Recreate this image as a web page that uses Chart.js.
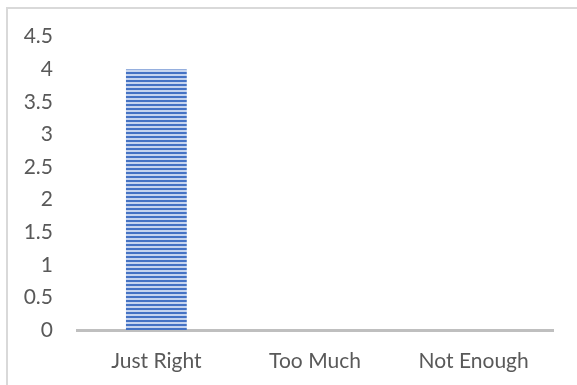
<!DOCTYPE html>
<html>
<head>
<meta charset="utf-8">
<script src="https://cdn.jsdelivr.net/npm/chart.js@4/dist/chart.umd.min.js"></script>
<style>
  html, body { margin: 0; padding: 0; background: #fff; overflow: hidden; }
  #frame { position: absolute; left: 6px; top: 7px; width: 620px; height: 420px; border: 2px solid #d9d9d9; }
  #wrap { position: absolute; left: 0; top: 0; width: 577px; height: 385px; }
</style>
</head>
<body>
<div id="frame"></div>
<div id="wrap"><canvas id="myChart1" width="577" height="385"></canvas></div>
<script>
var categories = ['Just Right', 'Too Much', 'Not Enough'];
var responses = [4, 0, 0];
var yTickLabels = ['0', '0.5', '1', '1.5', '2', '2.5', '3', '3.5', '4', '4.5'];

document.addEventListener('DOMContentLoaded', function(){
    // striped fill like the office "horizontal lines" pattern
    var pc = document.createElement('canvas');
    pc.width = 8; pc.height = 4;
    var p = pc.getContext('2d');
    p.fillStyle = '#c5d4ef';
    p.fillRect(0, 0, 8, 4);
    p.fillStyle = '#4472c4';
    p.fillRect(0, 0, 8, 2);
    var stripes = p.createPattern(pc, 'repeat');

    var font = { family: 'Lato', size: 21 };
    var ctx = document.getElementById('myChart1').getContext('2d');
    var myChart1 = new Chart(ctx, {
        type: 'bar',
        data: {
            labels: categories,
            datasets: [{
                label: 'Responses',
                backgroundColor: stripes,
                borderColor: '#4472c4',
                borderWidth: {top: 1, left: 0, right: 0, bottom: 0},
                data: responses,
                categoryPercentage: 1,
                barPercentage: 0.385
            }]
        },
        options: {
            responsive: false,
            animation: false,
            layout: { padding: { top: 36, right: 24, left: 0, bottom: 0 } },
            plugins: { legend: { display: false }, tooltip: { enabled: false } },
            scales: {
                x: {
                    grid: { display: false, drawTicks: false },
                    border: { display: true, color: '#bfbfbf', width: 3 },
                    ticks: { color: '#595959', font: font, padding: 19 },
                    afterFit: function(s){ s.height = 55; }
                },
                y: {
                    min: 0, max: 4.5,
                    grid: { display: false, drawTicks: false },
                    border: { display: false },
                    ticks: {
                        stepSize: 0.5,
                        color: '#595959',
                        font: font,
                        padding: 24,
                        callback: function(v, i){ return yTickLabels[i]; }
                    },
                    afterFit: function(s){ s.width = 77; }
                }
            }
        }
    });
});
</script>
</body>
</html>
